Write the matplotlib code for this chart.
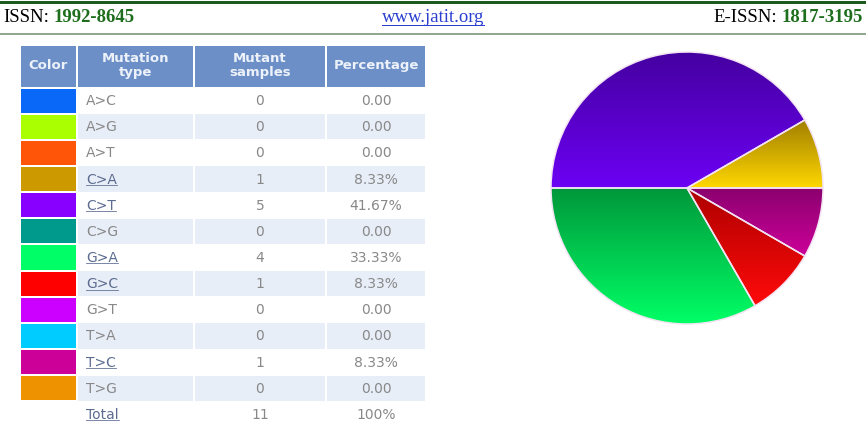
import matplotlib
matplotlib.use("Agg")
import matplotlib.pyplot as plt
import numpy as np
from matplotlib.patches import Rectangle
from matplotlib.colors import LinearSegmentedColormap

# table data
mutation_types = ["A>C", "A>G", "A>T", "C>A", "C>T", "C>G",
                  "G>A", "G>C", "G>T", "T>A", "T>C", "T>G"]
mutant_samples = [0, 0, 0, 1, 5, 0, 4, 1, 0, 0, 1, 0]
percent_labels = ["0.00", "0.00", "0.00", "8.33%", "41.67%", "0.00",
                  "33.33%", "8.33%", "0.00", "0.00", "8.33%", "0.00"]
is_link = [False, False, False, True, True, False,
           True, True, False, False, True, False]
type_colors = ["#0a68f8", "#aaff00", "#ff5508", "#cc9900", "#8800ff", "#009a8c",
               "#00ff66", "#ff0000", "#cc00ff", "#00ccff", "#cc0099", "#ee9200"]
header_labels = ["Color", "Mutation\ntype", "Mutant\nsamples", "Percentage"]
total_row = ["Total", "11", "100%"]

# pie shading (dark top -> light bottom) per slice
pie_dark = {"C>A": "#a07e00", "C>T": "#4500a0", "G>A": "#00973a",
            "G>C": "#ae0000", "T>C": "#8a006e"}
pie_light = {"C>A": "#ffd800", "C>T": "#6c00f4", "G>A": "#00ff66",
             "G>C": "#ff0a0a", "T>C": "#cc0099"}

W, H = 866, 426
fig = plt.figure(figsize=(W / 100, H / 100), dpi=100)
ax = fig.add_axes([0, 0, 1, 1])
ax.set_xlim(0, W)
ax.set_ylim(H, 0)
ax.axis("off")
renderer = fig.canvas.get_renderer()
PX = 0.72  # points per pixel

# ---- page header ----
ax.plot([0, W], [1.5, 1.5], color="#1d5a1d", lw=3 * PX)
ax.plot([0, W], [33.5, 33.5], color="#8fa88f", lw=2 * PX)

serif = "Liberation Serif"
green = "#1e6e1e"
hsize = 13.5


def text_width(s, **kw):
    t = ax.text(0, 0, s, **kw)
    w = t.get_window_extent(renderer).width
    t.remove()
    return w


def run(x, y, parts):
    for s, kw in parts:
        ax.text(x, y, s, va="center", ha="left", **kw)
        x += text_width(s, **kw)


issn_parts = [("ISSN:", dict(family=serif, size=hsize, color="black")),
              (" ", dict(family=serif, size=hsize)),
              ("1992-8645", dict(family=serif, size=hsize, color=green, weight="bold"))]
run(3, 18, issn_parts)

eissn_parts = [("E-ISSN:", dict(family=serif, size=hsize, color="black")),
               (" ", dict(family=serif, size=hsize)),
               ("1817-3195", dict(family=serif, size=hsize, color=green, weight="bold"))]
total_w = sum(text_width(s, **kw) for s, kw in eissn_parts)
run(863 - total_w, 18, eissn_parts)

url = ax.text(433, 18, "www.jatit.org", family=serif, size=hsize,
              color="#2a3fd0", ha="center", va="center")


def underline(t, color, lw=1.0):
    bb = t.get_window_extent(renderer)
    inv = ax.transData.inverted()
    (x0, y0), (x1, y1) = inv.transform([[bb.x0, bb.y0], [bb.x1, bb.y1]])
    ybot = max(y0, y1) - 1.5
    ax.plot([x0, x1], [ybot, ybot], color=color, lw=lw * PX)


underline(url, "#2a3fd0")

# ---- table ----
cols = [(21, 76), (78, 193), (195, 325), (327, 425)]
head_top, head_bot = 46, 87
row_top = 88
row_h = 26.15
head_blue = "#6b8fc6"
head_txt = "#edf2fa"
cell_txt = "#888888"
link_txt = "#5c6c90"
tfont = "DejaVu Sans"
tsize = 10

for (x0, x1), lab in zip(cols, header_labels):
    ax.add_patch(Rectangle((x0, head_top), x1 - x0, head_bot - head_top,
                           color=head_blue, lw=0))
    ax.text((x0 + x1) / 2, (head_top + head_bot) / 2 - 1, lab, ha="center",
            va="center", color=head_txt, weight="bold", size=tsize - 0.5,
            family=tfont, linespacing=1.05)

n_rows = len(mutation_types) + 1
for i in range(n_rows):
    top = row_top + i * row_h
    yc = top + row_h / 2
    bg = "#ffffff" if i % 2 == 0 else "#e8eef8"
    for x0, x1 in cols[1:]:
        ax.add_patch(Rectangle((x0, top), x1 - x0, row_h - 1, color=bg, lw=0))
    if i < len(mutation_types):
        ax.add_patch(Rectangle((cols[0][0], top + 0.5), cols[0][1] - cols[0][0],
                               row_h - 2, color=type_colors[i], lw=0))
        name, samples, pct, link = (mutation_types[i], str(mutant_samples[i]),
                                    percent_labels[i], is_link[i])
    else:
        name, samples, pct = total_row
        link = True
    t = ax.text(86, yc, name, ha="left", va="center", size=tsize, family=tfont,
                color=link_txt if link else cell_txt)
    if link:
        underline(t, link_txt, lw=0.8)
    ax.text((cols[2][0] + cols[2][1]) / 2, yc, samples, ha="center",
            va="center", size=tsize, family=tfont, color=cell_txt)
    ax.text((cols[3][0] + cols[3][1]) / 2, yc, pct, ha="center",
            va="center", size=tsize, family=tfont, color=cell_txt)

# ---- pie ----
pie_types = [m for m, s in zip(mutation_types, mutant_samples) if s > 0]
pie_vals = [s for s in mutant_samples if s > 0]

cx, cy, r = 687, 188, 136
pad = 2
pax = fig.add_axes([(cx - r - pad) / W, (H - cy - r - pad) / H,
                    2 * (r + pad) / W, 2 * (r + pad) / H])
wedges, _ = pax.pie(pie_vals, startangle=0, counterclock=True, radius=1,
                    wedgeprops=dict(ec="#f3e4f3", lw=1.1))
grad = np.linspace(0, 1, 256).reshape(-1, 1)
for w, m in zip(wedges, pie_types):
    ts = np.radians(np.linspace(w.theta1, w.theta2, 200))
    ys = np.r_[np.sin(ts), 0]
    cmap = LinearSegmentedColormap.from_list(m, [pie_light[m], pie_dark[m]])
    im = pax.imshow(grad, cmap=cmap, extent=(-1, 1, ys.min(), ys.max()),
                    origin="lower", aspect="auto", zorder=1)
    im.set_clip_path(w)
    w.set_facecolor("none")
    w.set_zorder(2)
lim = 1 + pad / r
pax.set_xlim(-lim, lim)
pax.set_ylim(-lim, lim)
pax.set_aspect("equal")
pax.axis("off")

fig.savefig("out.png", dpi=100)
